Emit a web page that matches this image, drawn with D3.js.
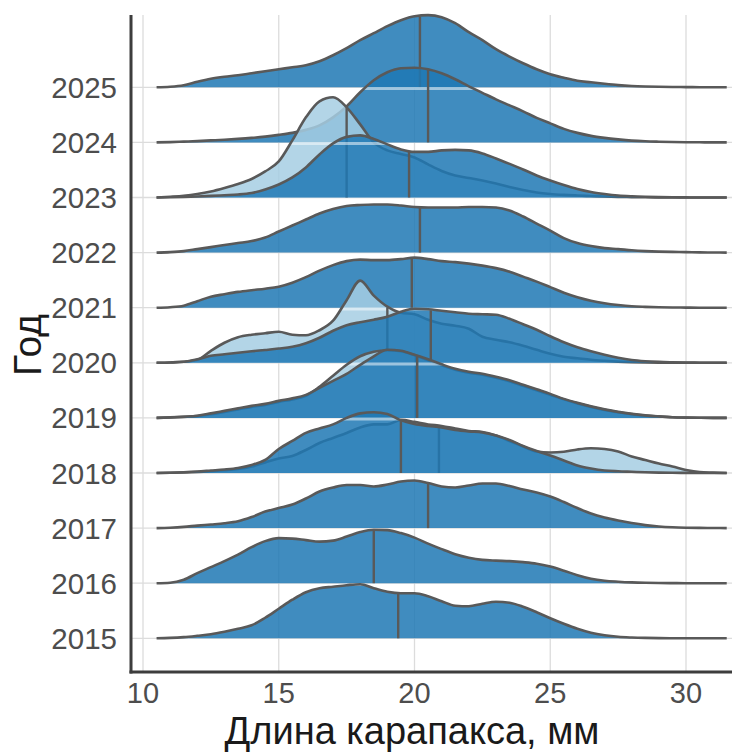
<html>

<head>
  <script src="https://d3js.org/d3.v7.min.js"></script>
  <style>
    body {
      margin: 0;
      background-color: #ffffff;
    }

    svg {
      display: block;
    }

    text {
      font-family: "Liberation Sans", Arial, sans-serif;
    }
  </style>
</head>

<body>
  <div id="chart"></div>
</body>

<script>
  // ridges from top to bottom
  var years = [2025, 2024, 2023, 2022, 2021, 2020, 2019, 2018, 2017, 2016, 2015];
  var xTicks = [10, 15, 20, 25, 30];

  // carapace length grid (mm) the densities are read at
  var lengthGrid = [10.5, 11, 11.5, 12, 12.5, 13, 13.5, 14, 14.5, 15, 15.5, 16, 16.5, 17, 17.5, 18, 18.5,
    19, 19.5, 20, 20.5, 21, 21.5, 22, 22.5, 23, 23.5, 24, 24.5, 25, 25.5, 26, 26.5, 27, 27.5, 28, 28.5,
    29, 29.5, 30, 30.5, 31, 31.5];

  // density (relative units) - main series (dark)
  var dark2025 = [0, 0.5, 2, 5.5, 8.5, 10.5, 12, 14, 16, 18, 20, 22, 26, 32, 39, 47, 54, 61, 67, 71, 72, 70, 64, 55, 47, 38, 30.6, 24, 18, 13, 9.5, 6.5, 5, 3.5, 2.2, 1.3, 0.8, 0.5, 0.3, 0.2, 0.1, 0, 0];
  var dark2024 = [0, 0.3, 0.8, 1.3, 2, 2.7, 3.5, 4.5, 5.8, 7.5, 9.5, 12.5, 17, 25, 36, 50, 62, 70, 74, 74.5, 73, 69, 63, 56, 49.5, 43, 37, 31, 24.5, 19, 13.5, 9.5, 6.5, 4.5, 3, 1.8, 1.1, 0.7, 0.4, 0.2, 0.1, 0, 0];
  var dark2023 = [0, 0.2, 0.5, 1, 1.6, 2.3, 3, 4.5, 8, 13, 20, 30, 43, 54, 60.5, 62, 58.5, 53, 48, 45.5, 45.5, 47, 47.5, 47, 44, 39, 33.6, 28, 22, 17, 12.5, 8.5, 5.5, 3.5, 2, 1.2, 0.7, 0.4, 0.2, 0.1, 0, 0, 0];
  var dark2022 = [0, 0.5, 1.5, 3.5, 5.5, 7.5, 9.5, 11.5, 15, 21, 27, 33, 39, 43.5, 46.5, 47.5, 48, 48, 47, 45.5, 45, 45, 45, 45.5, 45.5, 45, 42, 36, 29, 22, 14.5, 9.5, 6.5, 4.5, 3.5, 2.3, 1.5, 1, 0.7, 0.5, 0.2, 0.1, 0];
  var dark2021 = [0, 0.5, 2, 6.5, 11, 13.5, 15.8, 17.5, 19, 21, 25, 30.5, 37, 42.5, 46.5, 48, 47.5, 47.5, 48.5, 50, 48.5, 46.5, 45.5, 44, 42, 39.5, 36, 31, 26, 20.5, 15, 10.5, 7, 4.5, 2.7, 1.4, 0.8, 0.4, 0.2, 0.1, 0, 0, 0];
  var dark2020 = [0, 0.3, 1, 3.5, 7, 8.5, 10, 11.5, 12.8, 14.2, 16, 19.5, 25, 32, 37.5, 40.5, 43, 46, 51, 54, 53.5, 52, 50.5, 49, 48.5, 48, 44, 38.5, 33, 26.5, 20.5, 15.5, 11.5, 8, 5, 2.8, 1.6, 0.9, 0.5, 0.2, 0.1, 0, 0];
  var dark2019 = [0, 0.5, 1.2, 2.2, 4.5, 7, 9.5, 12, 14, 17, 19.5, 23, 30, 37, 44, 53, 61.5, 68, 67, 63, 58.5, 53.5, 49, 46, 44, 41, 37.5, 33, 28.5, 24, 19, 15, 11.5, 8.5, 6, 4, 2.5, 1.5, 0.7, 0.3, 0.1, 0, 0];
  var dark2018 = [0, 0.3, 0.8, 1.5, 2.5, 3.5, 5, 8, 13, 24, 32, 40, 44.5, 48.5, 55, 59.5, 60.7, 59, 52.5, 49, 47, 45.5, 43, 41.5, 40.5, 37.5, 33, 27, 22, 17.5, 12.5, 7.5, 4.5, 2.5, 1.7, 1.2, 0.7, 0.4, 0.2, 0.1, 0, 0, 0];
  var dark2017 = [0, 0.4, 1.2, 2.5, 3.6, 4.8, 6.8, 11, 16.5, 20, 23.5, 29.5, 36.5, 40.5, 43, 43, 41.5, 43.5, 46.5, 47.5, 45, 41.5, 40.5, 42.5, 44.5, 44.5, 42, 38.5, 35.5, 31.5, 26, 20, 14.5, 10.5, 7.5, 5, 3, 1.6, 0.8, 0.4, 0.2, 0.1, 0];
  var dark2016 = [0, 0.5, 3.5, 10, 16, 22, 28.5, 36, 42, 45, 44.5, 43, 41.5, 42.5, 46.5, 51, 53.3, 53, 50, 45.5, 39.5, 34, 29, 25.5, 23.3, 22.5, 22, 21, 19.5, 16.6, 12.5, 8, 4.5, 2.5, 1.5, 0.8, 0.4, 0.2, 0.1, 0, 0, 0, 0];
  var dark2015 = [0, 0.4, 1.2, 2.5, 4, 6.5, 9.5, 13, 20.5, 29.5, 38.5, 46, 50, 51.5, 53, 54, 50, 46.5, 45, 45, 42, 37, 32.5, 32, 34.5, 36.5, 35.5, 31.5, 26, 20, 14.5, 9.5, 5.5, 3, 1.5, 0.8, 0.4, 0.2, 0.1, 0, 0, 0, 0];

  // second series (light), only some years
  var light2023 = [0, 0.8, 1.8, 3.5, 6, 9.5, 13.5, 18.5, 26, 36, 57, 80, 96, 100, 90, 73, 55, 47, 43.5, 40, 33, 26.5, 22, 19.5, 17, 14, 10.5, 7.5, 5, 3.5, 2.6, 2, 1.5, 1, 0.6, 0.4, 0.2, 0.1, 0, 0, 0, 0, 0];
  var light2020 = [0, 0.3, 1, 3, 12, 20, 25.5, 28, 29.5, 31, 28, 27.5, 32.5, 42, 62.5, 82, 67, 56, 50, 48.5, 43, 39, 37, 34, 26, 23, 20.5, 17, 13, 9, 6, 4.5, 3, 2, 1.2, 0.7, 0.4, 0.2, 0.1, 0, 0, 0, 0];
  var light2019 = [0, 0.4, 1, 1.8, 3.7, 6, 8.5, 11, 13, 16, 18.5, 22, 31, 42, 53, 61.5, 66, 67.5, 66.5, 62.5, 57.5, 52.5, 48, 45, 43, 40, 36.5, 32, 27.5, 23, 18.5, 14.5, 11, 8, 5.7, 3.8, 2.3, 1.4, 0.6, 0.3, 0.1, 0, 0];
  var light2018 = [0, 0.2, 0.5, 1, 1.8, 2.8, 4, 6.5, 10.5, 14.5, 17, 23, 30, 35, 40, 45.5, 48.5, 48.5, 53, 51, 48.5, 47, 44.5, 42, 41, 37.5, 32, 26.5, 21.5, 20.5, 21.2, 23.5, 24.7, 24, 21.5, 16.5, 13, 9.5, 6.5, 3, 0.9, 0.4, 0];

  var darkCurves = [dark2025, dark2024, dark2023, dark2022, dark2021, dark2020, dark2019, dark2018, dark2017, dark2016, dark2015];
  var darkMedians = [20.2, 20.5, 19.8, 20.2, 19.9, 20.6, 20.1, 19.5, 20.5, 18.5, 19.4];

  var lightYears = [2023, 2020, 2019, 2018];
  var lightCurves = [light2023, light2020, light2019, light2018];
  var lightMedians = [17.5, 19.0, 20.05, 20.9];

  var width = 732, height = 752;
  var plotLeft = 131, plotRight = 732, plotTop = 15, plotBottom = 672;

  var svg = d3.select("#chart").append("svg")
    .attr("width", width).attr("height", height);

  var x = d3.scaleLinear().domain([10, 30]).range([143, 686]);
  var y = d3.scalePoint().domain(years).range([87.3, 638.3]);
  var h = d3.scaleLinear().domain([0, 55]).range([0, y.step()]);

  // grid
  svg.selectAll(".vgrid").data(xTicks).enter().append("line")
    .attr("x1", function(d) { return x(d); }).attr("x2", function(d) { return x(d); })
    .attr("y1", plotTop).attr("y2", plotBottom)
    .attr("stroke", "#dcdcdc").attr("stroke-width", 1.3);

  svg.selectAll(".hgrid").data(years).enter().append("line")
    .attr("x1", plotLeft).attr("x2", plotRight)
    .attr("y1", function(d) { return y(d); }).attr("y2", function(d) { return y(d); })
    .attr("stroke", "#dcdcdc").attr("stroke-width", 1.3);

  // build table of series in drawing order (top ridge first, light before dark)
  var series = [];
  years.forEach(function(yr, i) {
    var li = lightYears.indexOf(yr);
    if (li >= 0) series.push({ year: yr, row: i, values: lightCurves[li], median: lightMedians[li], fill: "#a6cee3" });
    series.push({ year: yr, row: i, values: darkCurves[i], median: darkMedians[i], fill: "#1f78b4" });
  });

  function valueAt(vals, m) {
    for (var i = 0; i < lengthGrid.length - 1; i++) {
      if (m >= lengthGrid[i] && m <= lengthGrid[i + 1]) {
        var t = (m - lengthGrid[i]) / (lengthGrid[i + 1] - lengthGrid[i]);
        return vals[i] + t * (vals[i + 1] - vals[i]);
      }
    }
    return 0;
  }

  var defs = svg.append("defs");
  var ridges = svg.append("g");

  series.forEach(function(s, k) {
    var base = y(s.year);
    var area = d3.area()
      .x(function(d, i) { return x(lengthGrid[i]); })
      .y0(base)
      .y1(function(d) { return base - h(d); })
      .curve(d3.curveMonotoneX);
    var line = d3.line()
      .x(function(d, i) { return x(lengthGrid[i]); })
      .y(function(d) { return base - h(d); })
      .curve(d3.curveMonotoneX);

    ridges.append("path").datum(s.values)
      .attr("d", area)
      .attr("fill", s.fill).attr("fill-opacity", 0.85);

    // light band where this ridge crosses the baselines above it
    var clipId = "clip" + k;
    defs.append("clipPath").attr("id", clipId)
      .append("path").datum(s.values).attr("d", area);
    var above = years.slice(0, s.row);
    ridges.append("g").attr("clip-path", "url(#" + clipId + ")")
      .selectAll("line").data(above).enter().append("line")
      .attr("x1", x(lengthGrid[0])).attr("x2", x(lengthGrid[lengthGrid.length - 1]))
      .attr("y1", function(d) { return y(d) + 1.2; }).attr("y2", function(d) { return y(d) + 1.2; })
      .attr("stroke", "#ffffff").attr("stroke-opacity", 0.5).attr("stroke-width", 3);

    ridges.append("path").datum(s.values)
      .attr("d", line)
      .attr("fill", "none").attr("stroke", "#595959").attr("stroke-width", 2.6);

    var top = base - h(valueAt(s.values, s.median)) + 0.8;
    ridges.append("line")
      .attr("x1", x(s.median)).attr("x2", x(s.median))
      .attr("y1", base).attr("y2", top)
      .attr("stroke", "#595959").attr("stroke-width", 2.4);
  });

  // axes
  svg.append("line")
    .attr("x1", plotLeft).attr("x2", plotLeft)
    .attr("y1", plotTop).attr("y2", plotBottom + 1.5)
    .attr("stroke", "#3d3d3d").attr("stroke-width", 3);
  svg.append("line")
    .attr("x1", plotLeft - 1.5).attr("x2", plotRight)
    .attr("y1", plotBottom).attr("y2", plotBottom)
    .attr("stroke", "#3d3d3d").attr("stroke-width", 3);

  svg.selectAll(".xlab").data(xTicks).enter().append("text")
    .attr("x", function(d) { return x(d); })
    .attr("y", 703)
    .attr("text-anchor", "middle")
    .attr("font-size", 29)
    .attr("fill", "#4d4d4d")
    .text(function(d) { return d; });

  svg.selectAll(".ylab").data(years).enter().append("text")
    .attr("x", 117)
    .attr("y", function(d) { return y(d) + 10.5; })
    .attr("text-anchor", "end")
    .attr("font-size", 29.5)
    .attr("fill", "#4d4d4d")
    .text(function(d) { return d; });

  svg.append("text")
    .attr("x", 412).attr("y", 744)
    .attr("text-anchor", "middle")
    .attr("font-size", 38)
    .attr("fill", "#1a1a1a")
    .text("Длина карапакса, мм");

  svg.append("text")
    .attr("transform", "translate(41,345) rotate(-90)")
    .attr("text-anchor", "middle")
    .attr("font-size", 39)
    .attr("fill", "#1a1a1a")
    .text("Год");
</script>

</html>
